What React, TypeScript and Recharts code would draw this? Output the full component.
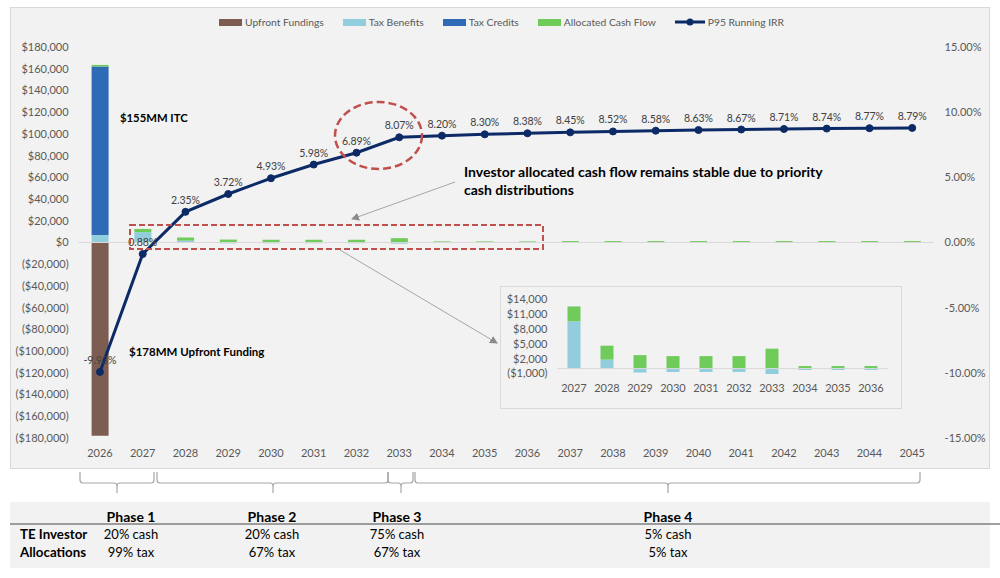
import React from "react";
import {
  ComposedChart,
  Bar,
  Line,
  XAxis,
  YAxis,
  ReferenceLine,
  LabelList,
} from "recharts";

// years on the main chart
const years = [
  "2026", "2027", "2028", "2029", "2030", "2031", "2032", "2033", "2034", "2035",
  "2036", "2037", "2038", "2039", "2040", "2041", "2042", "2043", "2044", "2045",
];
const upfrontFundings = [-178000, 0, 0, 0, 0, 0, 0, 0, 0, 0, 0, 0, 0, 0, 0, 0, 0, 0, 0, 0];
const taxBenefits = [7000, 9500, 1800, -800, -700, -700, -700, -1100, -200, -200, -200, 0, 0, 0, 0, 0, 0, 0, 0, 0];
const taxCredits = [155000, 0, 0, 0, 0, 0, 0, 0, 0, 0, 0, 0, 0, 0, 0, 0, 0, 0, 0, 0];
const allocatedCashFlow = [1500, 3000, 2800, 2700, 2500, 2500, 2500, 4000, 1000, 1000, 1000, 1300, 1300, 1300, 1300, 1300, 1300, 1300, 1300, 1300];
const runningIrr = [-9.93, -0.88, 2.35, 3.72, 4.93, 5.98, 6.89, 8.07, 8.2, 8.3, 8.38, 8.45, 8.52, 8.58, 8.63, 8.67, 8.71, 8.74, 8.77, 8.79];
const irrLabels = [
  "-9.93%", "0.88%", "2.35%", "3.72%", "4.93%", "5.98%", "6.89%", "8.07%", "8.20%", "8.30%",
  "8.38%", "8.45%", "8.52%", "8.58%", "8.63%", "8.67%", "8.71%", "8.74%", "8.77%", "8.79%",
];

const leftTicks = [
  -180000, -160000, -140000, -120000, -100000, -80000, -60000, -40000, -20000, 0,
  20000, 40000, 60000, 80000, 100000, 120000, 140000, 160000, 180000,
];
const rightTicks = [-15, -10, -5, 0, 5, 10, 15];

// inset (2027-2036 zoom)
const insetYears = ["2027", "2028", "2029", "2030", "2031", "2032", "2033", "2034", "2035", "2036"];
const insetTaxBenefits = [9500, 1800, -800, -700, -700, -700, -1100, -300, -300, -300];
const insetCashFlow = [3000, 2800, 2700, 2500, 2500, 2500, 4000, 500, 500, 500];
const insetTicks = [-1000, 2000, 5000, 8000, 11000, 14000];

// bottom phase table
const phases = ["Phase 1", "Phase 2", "Phase 3", "Phase 4"];
const phaseCash = ["20% cash", "20% cash", "75% cash", "5% cash"];
const phaseTax = ["99% tax", "67% tax", "67% tax", "5% tax"];
const phaseCenters = [131, 272, 397, 668];
const brackets = [
  [80, 154, 117],
  [157, 388, 273],
  [388, 413, 401],
  [415, 920, 668],
];

const COLORS = {
  upfront: "#7d5d52",
  taxBen: "#92cddd",
  taxCred: "#2e6ab5",
  cash: "#6fcb5a",
  irr: "#0c2a66",
};

const legendItems = [
  { name: "Upfront Fundings", color: COLORS.upfront, type: "rect" },
  { name: "Tax Benefits", color: COLORS.taxBen, type: "rect" },
  { name: "Tax Credits", color: COLORS.taxCred, type: "rect" },
  { name: "Allocated Cash Flow", color: COLORS.cash, type: "rect" },
  { name: "P95 Running IRR", color: COLORS.irr, type: "line" },
];

const FONT = "Lato, 'Liberation Sans', sans-serif";

const money = (v: number) => {
  const s = "$" + Math.abs(v).toLocaleString("en-US");
  return v < 0 ? "(" + s + ")" : s;
};
const pct = (v: number) => v.toFixed(2) + "%";

const mainData = years.map((year, i) => ({
  year,
  upfront: upfrontFundings[i],
  taxBen: taxBenefits[i],
  taxCred: taxCredits[i],
  cash: allocatedCashFlow[i],
  irr: runningIrr[i],
  irrLabel: irrLabels[i],
}));

const insetData = insetYears.map((year, i) => ({
  year,
  taxBen: insetTaxBenefits[i],
  cash: insetCashFlow[i],
}));

const tickStyle = { fontSize: 11, fill: "#595959", fontFamily: FONT };

const bracketPath = ([x1, x2, xs]: number[]) =>
  `M${x1} 472 L${x1} 480 Q${x1} 483 ${x1 + 3} 483 L${xs - 3} 483 Q${xs} 483 ${xs} 486 L${xs} 493 ` +
  `M${xs} 486 Q${xs} 483 ${xs + 3} 483 L${x2 - 3} 483 Q${x2} 483 ${x2} 480 L${x2} 472`;

export default function App() {
  return (
    <div style={{ position: "absolute", left: 0, top: 0, width: 1000, height: 578, background: "#fff", fontFamily: FONT }}>
      {/* chart panel */}
      <div
        style={{
          position: "absolute",
          left: 10,
          top: 7,
          width: 980,
          height: 462,
          background: "#f2f2f2",
          border: "1px solid #d9d9d9",
          boxSizing: "border-box",
        }}
      />
      <div style={{ position: "absolute", left: 0, top: 0 }}>
        <ComposedChart
          width={1000}
          height={470}
          data={mainData}
          stackOffset="sign"
          margin={{ top: 47, right: 6.4, left: 18.6, bottom: 2 }}
        >
          <XAxis
            dataKey="year"
            axisLine={false}
            tickLine={false}
            tick={tickStyle}
            tickMargin={5}
            interval={0}
          />
          <YAxis
            yAxisId="left"
            width={60}
            domain={[-180000, 180000]}
            ticks={leftTicks}
            tickFormatter={money}
            axisLine={false}
            tickLine={false}
            tick={tickStyle}
            tickMargin={4}
            interval={0}
          />
          <YAxis
            yAxisId="right"
            orientation="right"
            width={60}
            domain={[-15, 15]}
            ticks={rightTicks}
            tickFormatter={pct}
            axisLine={false}
            tickLine={false}
            tick={tickStyle}
            tickMargin={5}
            interval={0}
          />
          <ReferenceLine yAxisId="left" y={0} stroke="#d9d9d9" strokeWidth={1} />
          <Bar yAxisId="left" dataKey="upfront" stackId="a" fill={COLORS.upfront} barSize={17} isAnimationActive={false} />
          <Bar yAxisId="left" dataKey="taxBen" stackId="a" fill={COLORS.taxBen} barSize={17} isAnimationActive={false} />
          <Bar yAxisId="left" dataKey="taxCred" stackId="a" fill={COLORS.taxCred} barSize={17} isAnimationActive={false} />
          <Bar yAxisId="left" dataKey="cash" stackId="a" fill={COLORS.cash} barSize={17} isAnimationActive={false} />
          <Line
            yAxisId="right"
            dataKey="irr"
            stroke={COLORS.irr}
            strokeWidth={3}
            dot={{ r: 3.5, fill: COLORS.irr, stroke: COLORS.irr, strokeWidth: 1 }}
            isAnimationActive={false}
          >
            <LabelList
              dataKey="irrLabel"
              position="top"
              offset={8}
              style={{ fontSize: 10.5, fill: "#404040", fontFamily: FONT }}
            />
          </Line>
        </ComposedChart>
      </div>

      {/* legend */}
      <div
        style={{
          position: "absolute",
          left: 219,
          top: 16,
          display: "flex",
          alignItems: "center",
          gap: 19,
          fontSize: 10.3,
          color: "#595959",
          whiteSpace: "nowrap",
        }}
      >
        {legendItems.map((it) => (
          <div key={it.name} style={{ display: "flex", alignItems: "center", gap: 3 }}>
            {it.type === "rect" ? (
              <span style={{ display: "inline-block", width: 23, height: 7, background: it.color }} />
            ) : (
              <svg width={30} height={10}>
                <line x1={0} y1={5} x2={30} y2={5} stroke={it.color} strokeWidth={3} />
                <circle cx={15} cy={5} r={3.5} fill={it.color} />
              </svg>
            )}
            <span>{it.name}</span>
          </div>
        ))}
      </div>

      {/* inset chart */}
      <div
        style={{
          position: "absolute",
          left: 500,
          top: 286,
          width: 402,
          height: 123,
          background: "#f2f2f2",
          border: "1px solid #d9d9d9",
          boxSizing: "border-box",
        }}
      />
      <div style={{ position: "absolute", left: 500, top: 286 }}>
        <ComposedChart
          width={402}
          height={123}
          data={insetData}
          stackOffset="sign"
          margin={{ top: 13, right: 14.5, left: 7.5, bottom: 5 }}
        >
          <XAxis dataKey="year" axisLine={false} tickLine={false} tick={tickStyle} tickMargin={4} interval={0} />
          <YAxis
            width={50}
            domain={[-1000, 14000]}
            ticks={insetTicks}
            tickFormatter={money}
            axisLine={false}
            tickLine={false}
            tick={tickStyle}
            tickMargin={4}
            interval={0}
          />
          <ReferenceLine y={0} stroke="#d9d9d9" strokeWidth={1} />
          <Bar dataKey="taxBen" stackId="a" fill={COLORS.taxBen} barSize={13} isAnimationActive={false} />
          <Bar dataKey="cash" stackId="a" fill={COLORS.cash} barSize={13} isAnimationActive={false} />
        </ComposedChart>
      </div>

      {/* annotations, brackets and phase table */}
      <svg
        width={1000}
        height={578}
        style={{ position: "absolute", left: 0, top: 0, pointerEvents: "none" }}
      >
        <defs>
          <marker id="arr" markerWidth="8" markerHeight="8" refX="7" refY="4" orient="auto" markerUnits="userSpaceOnUse">
            <path d="M0,0 L8,4 L0,8 Z" fill="#8c8c8c" />
          </marker>
        </defs>
        <rect x={130} y={225} width={413} height={24} fill="none" stroke="#c0504d" strokeWidth={2} strokeDasharray="6 3" />
        <ellipse cx={378.5} cy={135.5} rx={43.5} ry={33.5} fill="none" stroke="#c0504d" strokeWidth={2.5} strokeDasharray="8 4" />
        <line x1={455} y1={182} x2={352} y2={219} stroke="#a6a6a6" strokeWidth={1} markerEnd="url(#arr)" />
        <line x1={340} y1={250} x2={497} y2={343} stroke="#a6a6a6" strokeWidth={1} markerEnd="url(#arr)" />

        <g fontFamily={FONT} fontWeight={700} fill="#000">
          <text x={120} y={122} fontSize={11.3}>$155MM ITC</text>
          <text x={129} y={356} fontSize={11.5}>$178MM Upfront Funding</text>
          <text x={464} y={177} fontSize={14}>Investor allocated cash flow remains stable due to priority</text>
          <text x={464} y={195} fontSize={14}>cash distributions</text>
        </g>

        {brackets.map((b, i) => (
          <path key={i} d={bracketPath(b)} fill="none" stroke="#a6a6a6" strokeWidth={1.2} />
        ))}

        <rect x={10} y={502} width={980} height={66} fill="#f2f2f2" />
        <line x1={10} y1={524} x2={1000} y2={524} stroke="#7f7f7f" strokeWidth={1.5} />
        <g fontFamily={FONT} fill="#000">
          {phases.map((p, i) => (
            <text key={p} x={phaseCenters[i]} y={522} textAnchor="middle" fontWeight={700} fontSize={14}>
              {p}
            </text>
          ))}
          <text x={20} y={539} fontWeight={700} fontSize={13.3}>TE Investor</text>
          <text x={20} y={557} fontWeight={700} fontSize={13.3}>Allocations</text>
          {phaseCash.map((c, i) => (
            <text key={"c" + i} x={phaseCenters[i]} y={539} textAnchor="middle" fontSize={13}>
              {c}
            </text>
          ))}
          {phaseTax.map((c, i) => (
            <text key={"t" + i} x={phaseCenters[i]} y={557} textAnchor="middle" fontSize={13}>
              {c}
            </text>
          ))}
        </g>
      </svg>
    </div>
  );
}
